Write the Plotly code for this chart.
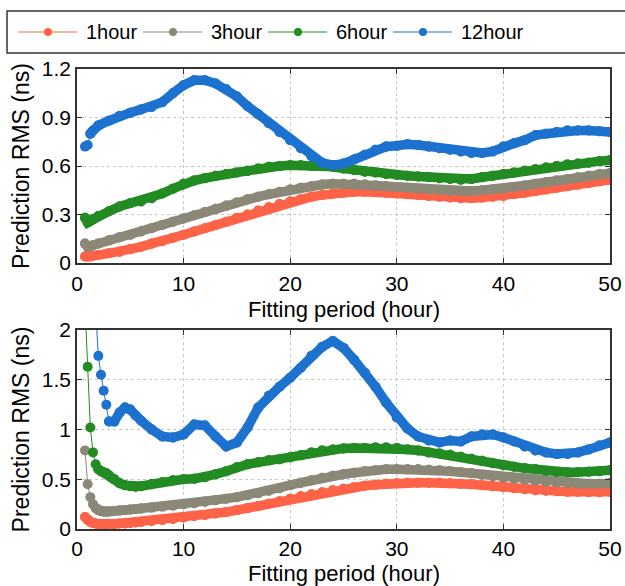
import plotly.graph_objects as go

# ---------------- data ----------------
series_names = ["1hour", "3hour", "6hour", "12hour"]
colors = ["#FF6347", "#8B8878", "#228B22", "#1C72CE"]
x_title_text = "Fitting period (hour)"
y_title_text = "Prediction RMS (ns)"

# top panel (x in hours)
x_top = [0.75, 1, 1.25, 1.5] + list(range(2, 51))
red_top = [0.04, 0.04, 0.04, 0.045,
           0.05, 0.06, 0.07, 0.085, 0.10, 0.12, 0.135, 0.155, 0.175, 0.195,
           0.215, 0.235, 0.255, 0.28, 0.30, 0.325, 0.345, 0.365, 0.38, 0.395,
           0.41, 0.42, 0.43, 0.435, 0.44, 0.44, 0.44, 0.435, 0.43, 0.425,
           0.42, 0.415, 0.41, 0.405, 0.40, 0.40, 0.405, 0.41, 0.415, 0.425,
           0.435, 0.445, 0.455, 0.465, 0.475, 0.485, 0.495, 0.505, 0.515]
gray_top = [0.12, 0.10, 0.105, 0.11,
            0.12, 0.14, 0.16, 0.175, 0.195, 0.215, 0.235, 0.255, 0.275, 0.295,
            0.315, 0.335, 0.355, 0.375, 0.395, 0.41, 0.425, 0.44, 0.455, 0.465,
            0.475, 0.485, 0.49, 0.49, 0.49, 0.485, 0.48, 0.475, 0.47, 0.465,
            0.46, 0.455, 0.45, 0.445, 0.445, 0.445, 0.45, 0.455, 0.46, 0.47,
            0.48, 0.49, 0.50, 0.51, 0.52, 0.53, 0.54, 0.55, 0.555]
green_top = [0.28, 0.25, 0.26, 0.27,
             0.29, 0.32, 0.35, 0.37, 0.38, 0.40, 0.43, 0.46, 0.49, 0.51,
             0.525, 0.54, 0.55, 0.56, 0.57, 0.585, 0.595, 0.60, 0.605, 0.605,
             0.60, 0.60, 0.595, 0.585, 0.575, 0.565, 0.56, 0.55, 0.545, 0.54,
             0.535, 0.53, 0.525, 0.52, 0.515, 0.52, 0.53, 0.54, 0.55, 0.56,
             0.57, 0.58, 0.59, 0.60, 0.61, 0.615, 0.62, 0.63, 0.635]
blue_top = [0.72, 0.73, 0.80, 0.82,
            0.85, 0.88, 0.91, 0.93, 0.95, 0.965, 0.995, 1.05, 1.10, 1.13,
            1.13, 1.11, 1.075, 1.03, 0.97, 0.92, 0.865, 0.81, 0.76, 0.71,
            0.66, 0.62, 0.605, 0.615, 0.64, 0.67, 0.70, 0.72, 0.725, 0.735,
            0.73, 0.72, 0.71, 0.70, 0.69, 0.68, 0.68, 0.69, 0.72, 0.74,
            0.76, 0.79, 0.80, 0.81, 0.82, 0.82, 0.82, 0.815, 0.81]

# bottom panel
x_bot = [0.75, 1, 1.25, 1.5, 1.75, 2, 2.25, 2.5, 2.75, 3, 3.5, 4, 4.5, 5, 5.5, 6] + list(range(7, 51))
red_bot = [0.12, 0.09, 0.07, 0.06, 0.055, 0.05, 0.05, 0.05, 0.05, 0.05, 0.05, 0.055, 0.055, 0.06, 0.065, 0.07,
           0.08, 0.09, 0.10, 0.115, 0.13, 0.14, 0.155, 0.17, 0.19, 0.21,
           0.23, 0.255, 0.28, 0.305, 0.33, 0.35, 0.37, 0.39, 0.405, 0.42,
           0.435, 0.445, 0.455, 0.46, 0.465, 0.465, 0.465, 0.465, 0.46, 0.455,
           0.45, 0.44, 0.43, 0.42, 0.41, 0.40, 0.39, 0.385, 0.38, 0.375,
           0.375, 0.37, 0.37, 0.375]
gray_bot = [0.79, 0.45, 0.32, 0.25, 0.21, 0.19, 0.18, 0.175, 0.175, 0.175, 0.18, 0.185, 0.19, 0.195, 0.20, 0.205,
            0.215, 0.225, 0.235, 0.25, 0.26, 0.275, 0.29, 0.305, 0.32, 0.34,
            0.36, 0.385, 0.41, 0.44, 0.465, 0.49, 0.515, 0.535, 0.55, 0.565,
            0.58, 0.59, 0.60, 0.60, 0.60, 0.60, 0.595, 0.59, 0.58, 0.57,
            0.56, 0.545, 0.53, 0.515, 0.505, 0.495, 0.485, 0.475, 0.465, 0.46,
            0.455, 0.455, 0.455, 0.46]
green_bot = [2.25, 1.63, 1.02, 0.77, 0.65, 0.60, 0.58, 0.57, 0.56, 0.54, 0.50, 0.46, 0.44, 0.43, 0.425, 0.43,
             0.45, 0.47, 0.49, 0.50, 0.505, 0.52, 0.55, 0.58, 0.62, 0.65,
             0.67, 0.69, 0.70, 0.72, 0.74, 0.77, 0.79, 0.80, 0.81, 0.815,
             0.815, 0.82, 0.82, 0.815, 0.80, 0.79, 0.77, 0.76, 0.745, 0.725,
             0.705, 0.685, 0.66, 0.64, 0.625, 0.61, 0.60, 0.585, 0.575, 0.57,
             0.57, 0.575, 0.58, 0.59]
blue_bot = [6.0, 4.5, 3.5, 2.8, 2.2, 1.74, 1.55, 1.39, 1.25, 1.08, 1.08, 1.17, 1.22, 1.20, 1.14, 1.09,
            1.00, 0.93, 0.92, 0.95, 1.05, 1.04, 0.93, 0.83, 0.87, 1.02,
            1.22, 1.34, 1.43, 1.52, 1.62, 1.74, 1.83, 1.89, 1.82, 1.70,
            1.57, 1.43, 1.27, 1.12, 1.01, 0.93, 0.89, 0.87, 0.89, 0.88,
            0.93, 0.95, 0.95, 0.92, 0.88, 0.83, 0.79, 0.77, 0.755, 0.755,
            0.77, 0.80, 0.84, 0.87]

top_series = [red_top, gray_top, green_top, blue_top]
bot_series = [red_bot, gray_bot, green_bot, blue_bot]
for s in top_series:
    assert len(s) == len(x_top), len(s)
for s in bot_series:
    assert len(s) == len(x_bot), len(s)

# index from which the curve forms a continuous thick band (style only)
top_band_start = [0, 0, 0, 2]
bot_band_start = [0, 4, 5, 9]

# ---------------- layout geometry ----------------
W, H = 625, 586
ML, MR, MT, MB = 77, 15, 69, 57
PW, PH = W - ML - MR, H - MT - MB
FONT = "Liberation Sans, Arial, sans-serif"


def pxx(px):
    return (px - ML) / PW


def pxy(py):
    return (H - MB - py) / PH


fig = go.Figure()

MS = 10
for i, c in enumerate(colors):
    for xs, ys, bs, xa, ya in [(x_top, top_series[i], top_band_start[i], "x", "y"),
                               (x_bot, bot_series[i], bot_band_start[i], "x2", "y2")]:
        fig.add_trace(go.Scatter(x=xs, y=ys, mode="lines+markers",
                                 line=dict(color=c, width=1),
                                 marker=dict(color=c, size=MS, line=dict(width=0)),
                                 xaxis=xa, yaxis=ya, showlegend=False,
                                 hoverinfo="skip"))
        fig.add_trace(go.Scatter(x=xs[bs:], y=ys[bs:], mode="lines+markers",
                                 line=dict(color=c, width=MS - 0.5),
                                 marker=dict(color=c, size=MS, line=dict(width=0)),
                                 xaxis=xa, yaxis=ya, showlegend=False,
                                 hoverinfo="skip"))

axis_common = dict(showline=True, linecolor="#333333", linewidth=1.5, mirror="ticks",
                   ticks="inside", ticklen=5, tickwidth=1.2, tickcolor="#333333",
                   showgrid=True, gridcolor="#c8c8c8", griddash="dot", gridwidth=1,
                   zeroline=False, automargin=False,
                   tickfont=dict(family=FONT, size=21, color="black"))

ytitle = dict(text=y_title_text, font=dict(family=FONT, size=23, color="black"), standoff=6)

top_dom = [pxy(263), 1.0]
bot_dom = [0.0, pxy(330)]

fig.update_layout(
    width=W, height=H,
    margin=dict(l=ML, r=MR, t=MT, b=MB, pad=0, autoexpand=False),
    paper_bgcolor="white", plot_bgcolor="white",
    font=dict(family=FONT, color="black"),
    xaxis=dict(domain=[0, 1], anchor="y", range=[0, 50], tickvals=[0, 10, 20, 30, 40, 50],
               ticklabelstandoff=1, **axis_common),
    yaxis=dict(domain=top_dom, anchor="x", range=[0, 1.2], tickvals=[0, 0.3, 0.6, 0.9, 1.2],
               ticktext=["0", "0.3", "0.6", "0.9", "1.2"], title=ytitle, **axis_common),
    xaxis2=dict(domain=[0, 1], anchor="y2", range=[0, 50], tickvals=[0, 10, 20, 30, 40, 50],
                ticklabelstandoff=0, **axis_common),
    yaxis2=dict(domain=bot_dom, anchor="x2", range=[0, 2], tickvals=[0, 0.5, 1, 1.5, 2],
                ticktext=["0", "0.5", "1", "1.5", "2"], title=ytitle, **axis_common),
    showlegend=False,
)

# ---------------- x titles + custom legend ----------------
annotations = []
for ty in (309, 573.5):
    annotations.append(dict(text=x_title_text, xref="paper", yref="paper", x=0.5, y=pxy(ty),
                            xanchor="center", yanchor="middle", showarrow=False, borderpad=0,
                            font=dict(family=FONT, size=22, color="black")))

shapes = [dict(type="rect", xref="paper", yref="paper",
               x0=pxx(7), x1=pxx(640), y0=pxy(53), y1=pxy(11),
               line=dict(color="#333333", width=1.5), fillcolor="white", layer="above")]
leg_y = 32
line_starts = [18, 143, 268, 393]
for name, c, lx in zip(series_names, colors, line_starts):
    shapes.append(dict(type="line", xref="paper", yref="paper",
                       x0=pxx(lx), x1=pxx(lx + 59), y0=pxy(leg_y), y1=pxy(leg_y),
                       line=dict(color=c, width=1.2)))
    cx = lx + 30
    r = 4
    shapes.append(dict(type="circle", xref="paper", yref="paper",
                       x0=pxx(cx - r), x1=pxx(cx + r), y0=pxy(leg_y + r), y1=pxy(leg_y - r),
                       fillcolor=c, line=dict(color=c, width=0)))
    annotations.append(dict(text=name, xref="paper", yref="paper", x=pxx(lx + 66), y=pxy(leg_y),
                            xanchor="left", yanchor="middle", showarrow=False,
                            font=dict(family=FONT, size=20, color="black")))

fig.update_layout(shapes=shapes, annotations=annotations)

fig.write_html("out.html")
